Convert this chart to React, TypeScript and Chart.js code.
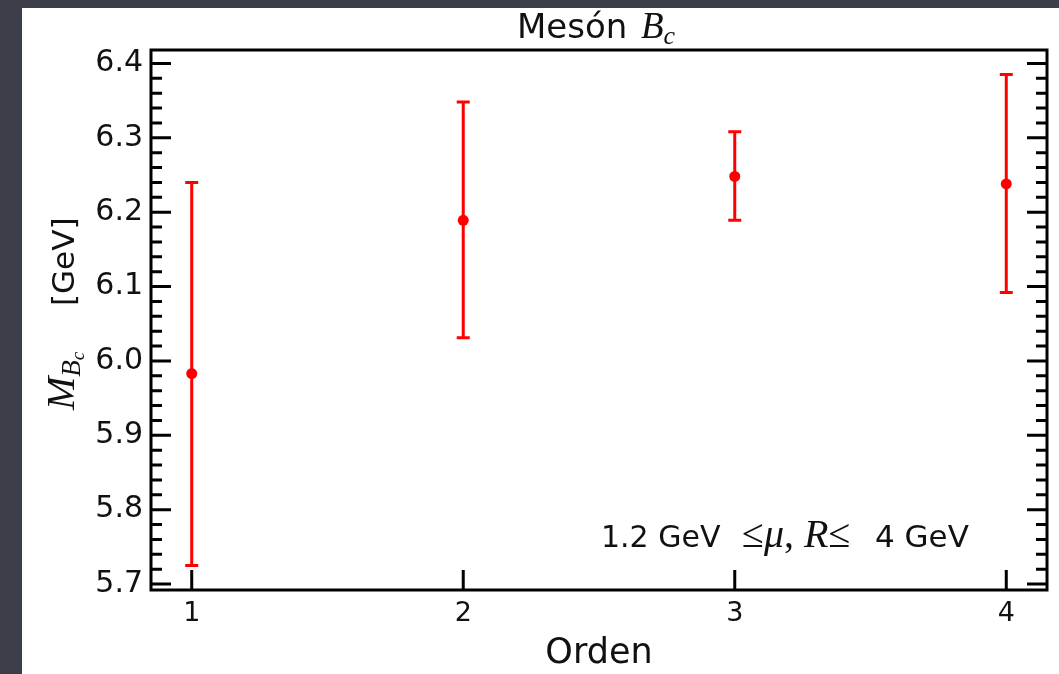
import { useEffect, useRef } from 'react';
import { Chart, registerables } from 'chart.js';
Chart.register(...registerables);

// ---- data ----
const orders = [1, 2, 3, 4];
const masses = [5.983, 6.189, 6.248, 6.238];
const lowerBounds = [5.725, 6.031, 6.189, 6.092];
const upperBounds = [6.240, 6.348, 6.308, 6.385];
const xTickValues = [1, 2, 3, 4];
const yTickValues = [5.7, 5.8, 5.9, 6.0, 6.1, 6.2, 6.3, 6.4];
const yMinorTickValues = [
  5.72, 5.74, 5.76, 5.78, 5.82, 5.84, 5.86, 5.88, 5.92, 5.94, 5.96, 5.98,
  6.02, 6.04, 6.06, 6.08, 6.12, 6.14, 6.16, 6.18, 6.22, 6.24, 6.26, 6.28,
  6.32, 6.34, 6.36, 6.38,
];
const xRange = [0.85, 4.15];
const yRange = [5.692, 6.418];

const SANS = "'DejaVu Sans'";
const SERIF = "'Liberation Serif'";

type Run = { text: string; font: string; dy?: number; at?: number };

function drawRuns(ctx: CanvasRenderingContext2D, runs: Run[], x: number, y: number, align: 'center' | 'left') {
  let total = 0;
  const widths = runs.map((r) => {
    ctx.font = r.font;
    const w = ctx.measureText(r.text).width;
    total += w;
    return w;
  });
  const start = align === 'center' ? x - total / 2 : x;
  let cx = start;
  ctx.textAlign = 'left';
  ctx.textBaseline = 'alphabetic';
  runs.forEach((r, i) => {
    if (r.at !== undefined) cx = start + r.at;
    ctx.font = r.font;
    ctx.fillText(r.text, cx, y + (r.dy || 0));
    cx += widths[i];
  });
}

const errorBarPlugin = {
  id: 'errorBars',
  beforeDatasetsDraw(chart: any) {
    const { ctx, scales } = chart;
    const xs = scales.x;
    const ys = scales.y;
    ctx.save();
    ctx.strokeStyle = '#ff0000';
    ctx.lineWidth = 3;
    ctx.lineCap = 'butt';
    orders.forEach((o, i) => {
      const px = xs.getPixelForValue(o);
      const lo = ys.getPixelForValue(lowerBounds[i]);
      const hi = ys.getPixelForValue(upperBounds[i]);
      ctx.beginPath();
      ctx.moveTo(px, lo);
      ctx.lineTo(px, hi);
      ctx.moveTo(px - 6.5, lo);
      ctx.lineTo(px + 6.5, lo);
      ctx.moveTo(px - 6.5, hi);
      ctx.lineTo(px + 6.5, hi);
      ctx.stroke();
    });
    ctx.restore();
  },
};

const framePlugin = {
  id: 'frame',
  afterDraw(chart: any) {
    const { ctx, chartArea: a, scales } = chart;
    const xs = scales.x;
    const ys = scales.y;
    ctx.save();
    ctx.strokeStyle = '#000';
    ctx.lineWidth = 3;
    ctx.lineCap = 'butt';
    ctx.beginPath();
    yTickValues.forEach((v) => {
      const py = ys.getPixelForValue(v);
      ctx.moveTo(a.left, py);
      ctx.lineTo(a.left + 20, py);
      ctx.moveTo(a.right, py);
      ctx.lineTo(a.right - 20, py);
    });
    yMinorTickValues.forEach((v) => {
      const py = ys.getPixelForValue(v);
      ctx.moveTo(a.left, py);
      ctx.lineTo(a.left + 11, py);
      ctx.moveTo(a.right, py);
      ctx.lineTo(a.right - 11, py);
    });
    xTickValues.forEach((v) => {
      const px = xs.getPixelForValue(v);
      ctx.moveTo(px, a.bottom);
      ctx.lineTo(px, a.bottom - 20);
    });
    ctx.stroke();
    ctx.lineJoin = 'miter';
    ctx.strokeRect(a.left, a.top, a.right - a.left, a.bottom - a.top);

    ctx.fillStyle = '#111';
    // title
    drawRuns(ctx, [
      { text: 'Mesón', font: `34px ${SANS}` },
      { text: 'B', font: `italic 37px ${SERIF}`, at: 124 },
      { text: 'c', font: `italic 26px ${SERIF}`, dy: 6 },
    ], 495, 30, 'left');

    // x label
    drawRuns(ctx, [{ text: 'Orden', font: `35px ${SANS}` }], (a.left + a.right) / 2, 655, 'center');

    // annotation
    drawRuns(ctx, [
      { text: '1.2 GeV', font: `30px ${SANS}` },
      { text: '≤', font: `40px ${SERIF}`, at: 141 },
      { text: 'μ', font: `italic 40px ${SERIF}` },
      { text: ', ', font: `40px ${SERIF}` },
      { text: 'R', font: `italic 40px ${SERIF}` },
      { text: '≤', font: `40px ${SERIF}` },
      { text: '4 GeV', font: `31px ${SANS}`, at: 274 },
    ], 579, 539, 'left');

    // y label (rotated)
    ctx.save();
    ctx.translate(52, 402);
    ctx.rotate(-Math.PI / 2);
    drawRuns(ctx, [
      { text: 'M', font: `italic 40px ${SERIF}` },
      { text: 'B', font: `italic 27px ${SERIF}`, dy: 6 },
      { text: 'c', font: `italic 19px ${SERIF}`, dy: 10 },
      { text: '[GeV]', font: `31px ${SANS}`, at: 104 },
    ], 0, 0, 'left');
    ctx.restore();
    ctx.restore();
  },
};

export default function App() {
  const ref = useRef<HTMLCanvasElement | null>(null);
  useEffect(() => {
    if (!ref.current) return;
    const chart = new Chart(ref.current, {
      type: 'scatter',
      data: {
        datasets: [
          {
            data: orders.map((o, i) => ({ x: o, y: masses[i] })),
            backgroundColor: '#ff0000',
            borderColor: '#ff0000',
            pointRadius: 5.5,
            pointBorderWidth: 0,
            showLine: false,
          },
        ],
      },
      options: {
        responsive: false,
        animation: false,
        devicePixelRatio: 1,
        layout: { padding: { top: 42, right: 12, left: 0, bottom: 0 } },
        plugins: { legend: { display: false }, tooltip: { enabled: false }, title: { display: false } },
        scales: {
          x: {
            type: 'linear',
            min: xRange[0],
            max: xRange[1],
            grid: { display: false, drawTicks: false, tickLength: 0 },
            border: { display: false },
            afterBuildTicks: (s: any) => {
              s.ticks = xTickValues.map((v) => ({ value: v }));
            },
            afterFit: (s: any) => {
              s.height = 84;
            },
            ticks: {
              color: '#111',
              font: { family: SANS, size: 27 },
              padding: 8,
              maxRotation: 0,
              callback: (v: any) => String(v),
            },
          },
          y: {
            type: 'linear',
            min: yRange[0],
            max: yRange[1],
            grid: { display: false, drawTicks: false, tickLength: 0 },
            border: { display: false },
            afterBuildTicks: (s: any) => {
              s.ticks = yTickValues.map((v) => ({ value: v }));
            },
            afterFit: (s: any) => {
              s.width = 129;
            },
            ticks: {
              color: '#111',
              font: { family: SANS, size: 30 },
              padding: 8,
              callback: (v: any) => Number(v).toFixed(1),
            },
          },
        },
      },
      plugins: [errorBarPlugin, framePlugin],
    });
    return () => chart.destroy();
  }, []);

  return (
    <div style={{ position: 'fixed', left: 0, top: 0, width: 1059, height: 674, background: '#3c3f4a', overflow: 'hidden' }}>
      <canvas
        ref={ref}
        width={1037}
        height={666}
        style={{ position: 'absolute', left: 22, top: 8, width: 1037, height: 666, background: '#ffffff' }}
      />
    </div>
  );
}
